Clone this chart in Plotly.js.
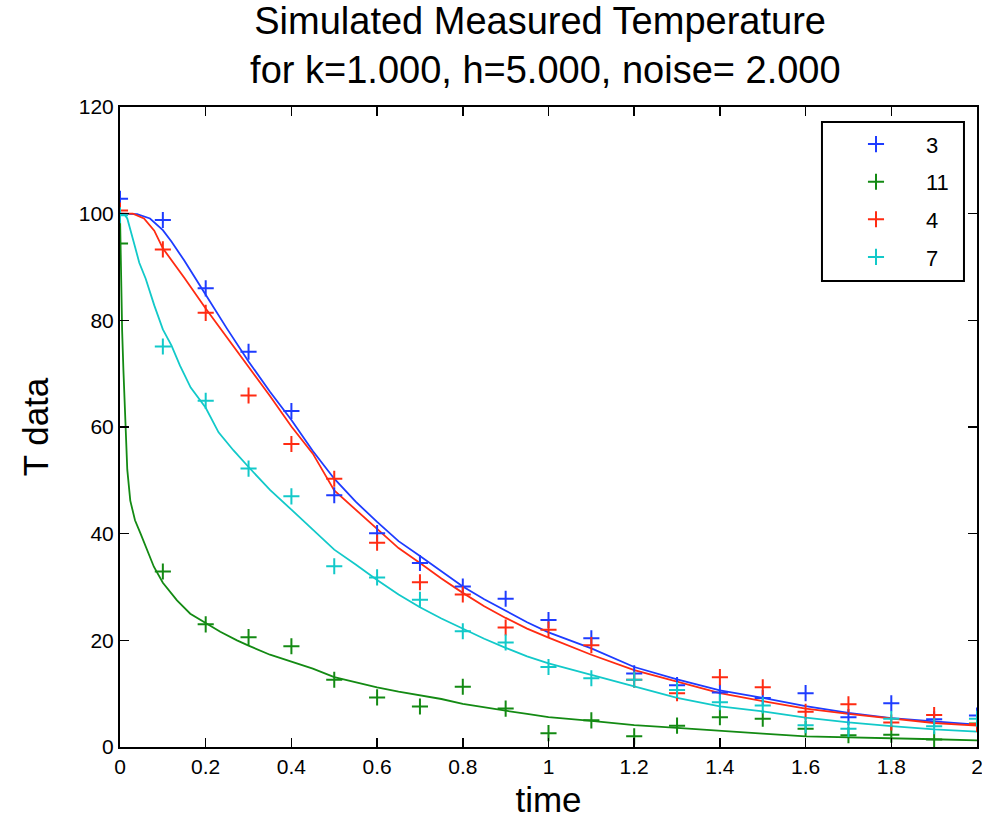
<!DOCTYPE html>
<html>
<head>
<meta charset="utf-8">
<script src="https://cdn.plot.ly/plotly-3.0.1.min.js"></script>
<style>html,body{margin:0;padding:0;background:#fff;}#chart{width:982px;height:822px;}</style>
</head>
<body>
<div id="chart"></div>
<script>
// measurement times
var tMeas = [0, 0.1, 0.2, 0.3, 0.4, 0.5, 0.6, 0.7, 0.8, 0.9, 1.0, 1.1, 1.2, 1.3, 1.4, 1.5, 1.6, 1.7, 1.8, 1.9, 2.0];

// measured (noisy) data, series labels 3, 11, 4, 7
var meas3  = [102.8, 98.8, 86.0, 74.1, 63.0, 47.2, 40.1, 34.5, 30.1, 27.8, 23.8, 20.4, 13.8, 11.6, 10.2, 9.2, 10.1, 5.6, 8.2, 5.2, 5.9];
var meas11 = [94.4, 32.9, 23.0, 20.6, 18.9, 12.6, 9.3, 7.6, 11.3, 7.2, 2.6, 5.0, 2.0, 4.0, 5.6, 5.3, 3.4, 2.2, 2.3, 1.4, 4.4];
var meas4  = [100.6, 93.3, 81.4, 65.9, 56.8, 50.3, 38.3, 30.9, 28.6, 22.4, 22.0, 19.1, 12.6, 10.1, 13.1, 11.2, 6.6, 8.0, 4.6, 6.0, 4.3];
var meas7  = [99.7, 75.1, 64.9, 52.2, 47.0, 33.9, 31.8, 27.6, 21.7, 19.6, 15.0, 12.9, 12.6, 10.7, 8.4, 7.8, 4.1, 3.4, 5.3, 3.9, 5.3];

// model curves
var tLine3 = [0, 0.04, 0.07, 0.1, 0.12, 0.15, 0.2, 0.25, 0.3, 0.35, 0.4, 0.45, 0.5, 0.55, 0.6, 0.65, 0.7, 0.75, 0.8, 0.85, 0.9, 0.95, 1.0, 1.1, 1.2, 1.3, 1.4, 1.5, 1.6, 1.7, 1.8, 1.9, 2.0];
var line3  = [100, 99.9, 99.1, 96.9, 94.8, 91.2, 84.8, 78.4, 72.3, 66.6, 61.3, 55.5, 50.3, 46.0, 42.2, 38.6, 35.8, 32.9, 30.1, 27.7, 25.5, 23.4, 21.5, 18.5, 15.0, 12.7, 10.6, 9.2, 7.65, 6.4, 5.4, 4.8, 4.2];

var tLine4 = [0, 0.03, 0.056, 0.08, 0.1, 0.13, 0.15, 0.2, 0.25, 0.3, 0.35, 0.4, 0.45, 0.5, 0.55, 0.6, 0.65, 0.7, 0.75, 0.8, 0.85, 0.9, 0.95, 1.0, 1.1, 1.2, 1.3, 1.4, 1.5, 1.6, 1.7, 1.8, 1.9, 2.0];
var line4  = [100, 100, 99.1, 96.8, 93.5, 90.2, 88.0, 82.2, 76.8, 71.3, 65.8, 60.1, 55.0, 48.1, 44.5, 40.9, 37.3, 34.5, 31.6, 28.9, 26.4, 24.2, 22.2, 20.5, 17.3, 14.4, 12.3, 10.1, 8.6, 7.2, 6.2, 5.3, 4.5, 4.0];

var tLine7 = [0, 0.01, 0.017, 0.025, 0.035, 0.045, 0.06, 0.08, 0.1, 0.12, 0.14, 0.165, 0.2, 0.23, 0.265, 0.3, 0.35, 0.4, 0.45, 0.5, 0.55, 0.6, 0.65, 0.7, 0.75, 0.8, 0.85, 0.9, 0.95, 1.0, 1.1, 1.2, 1.3, 1.4, 1.5, 1.6, 1.7, 1.8, 1.9, 2.0];
var line7  = [100, 99.9, 99.1, 96.5, 93.8, 90.8, 87.8, 82.8, 78.3, 75.3, 71.5, 67.4, 63.6, 59.0, 55.6, 52.5, 48.2, 44.5, 40.8, 37.0, 34.2, 31.3, 28.6, 26.2, 24.1, 22.2, 20.3, 18.6, 17.0, 15.7, 13.5, 11.3, 9.2, 7.6, 6.7, 5.5, 4.6, 3.9, 3.3, 2.9];

var tLine11 = [0, 0.002, 0.005, 0.008, 0.012, 0.017, 0.024, 0.035, 0.048, 0.063, 0.079, 0.1, 0.133, 0.164, 0.2, 0.234, 0.273, 0.3, 0.35, 0.4, 0.45, 0.5, 0.55, 0.6, 0.65, 0.7, 0.75, 0.8, 0.85, 0.9, 0.95, 1.0, 1.1, 1.2, 1.3, 1.4, 1.5, 1.6, 1.7, 1.8, 1.9, 2.0];
var line11  = [100, 88, 78, 70.6, 62, 52, 46.2, 42.5, 40.0, 36.9, 33.8, 30.8, 27.5, 25.0, 23.2, 21.6, 20.0, 19.0, 17.3, 16.0, 14.7, 13.1, 12.1, 11.2, 10.4, 9.7, 9.0, 8.1, 7.4, 6.8, 6.2, 5.6, 4.9, 4.1, 3.6, 3.0, 2.5, 2.0, 1.85, 1.7, 1.45, 1.25];

var labels = ['3', '11', '4', '7'];
var colors = ['#1e3cff', '#138a13', '#ff2b12', '#12c9c9'];
var measData = [meas3, meas11, meas4, meas7];
var lineT = [tLine3, tLine11, tLine4, tLine7];
var lineY = [line3, line11, line4, line7];

var traces = [];
for (var i = 0; i < 4; i++) {
  traces.push({
    x: lineT[i], y: lineY[i], type: 'scatter', mode: 'lines',
    line: {color: colors[i], width: 1.8}, showlegend: false, hoverinfo: 'skip'
  });
}
for (var j = 0; j < 4; j++) {
  traces.push({
    x: tMeas, y: measData[j], type: 'scatter', mode: 'markers', name: labels[j],
    legendgroup: 'g' + j,
    marker: {symbol: 'cross-thin-open', size: 11.5, color: colors[j], line: {color: colors[j], width: 2}}
  });
}

var font = 'Liberation Sans, Arial, Helvetica, sans-serif';
var layout = {
  width: 982, height: 822,
  margin: {l: 120, r: 5, t: 107, b: 75, pad: 0},
  paper_bgcolor: '#fff', plot_bgcolor: '#fff',
  font: {family: font, color: '#000', size: 21},
  title: {
    text: 'Simulated Measured Temperature<br> for k=1.000, h=5.000, noise= 2.000',
    font: {family: font, size: 38, color: '#000'},
    x: 0.55, xref: 'container', xanchor: 'center',
    y: 0.9586, yref: 'container', yanchor: 'top'
  },
  xaxis: {
    range: [0, 2], dtick: 0.2, tick0: 0,
    showgrid: false, zeroline: false,
    showline: true, linecolor: '#000', linewidth: 2, mirror: 'ticks',
    ticks: 'inside', ticklen: 9, tickwidth: 1.5, tickcolor: '#000',
    ticklabeloverflow: 'allow',
    tickfont: {family: font, size: 21, color: '#000'},
    title: {text: 'time', font: {family: font, size: 35, color: '#000'}, standoff: 10}
  },
  yaxis: {
    range: [0, 120], dtick: 20, tick0: 0,
    showgrid: false, zeroline: false,
    showline: true, linecolor: '#000', linewidth: 2, mirror: 'ticks',
    ticks: 'inside', ticklen: 9, tickwidth: 1.5, tickcolor: '#000',
    ticklabeloverflow: 'allow',
    tickfont: {family: font, size: 21, color: '#000'},
    title: {text: 'T data', font: {family: font, size: 35, color: '#000'}, standoff: 20}
  },
  legend: {
    x: 0.8238, y: 0.9745, xanchor: 'left', yanchor: 'top',
    bgcolor: 'rgba(0,0,0,0)', borderwidth: 0,
    font: {family: font, size: 22, color: '#000'},
    itemwidth: 90, traceorder: 'grouped', tracegroupgap: 6
  },
  shapes: [{
    type: 'rect', xref: 'paper', yref: 'paper', layer: 'above',
    x0: 0.8191, x1: 0.9848, y0: 0.7281, y1: 0.9766,
    fillcolor: '#fff', line: {color: '#000', width: 2}
  }],
  showlegend: true
};

Plotly.newPlot('chart', traces, layout, {displayModeBar: false, staticPlot: true});
</script>
</body>
</html>
